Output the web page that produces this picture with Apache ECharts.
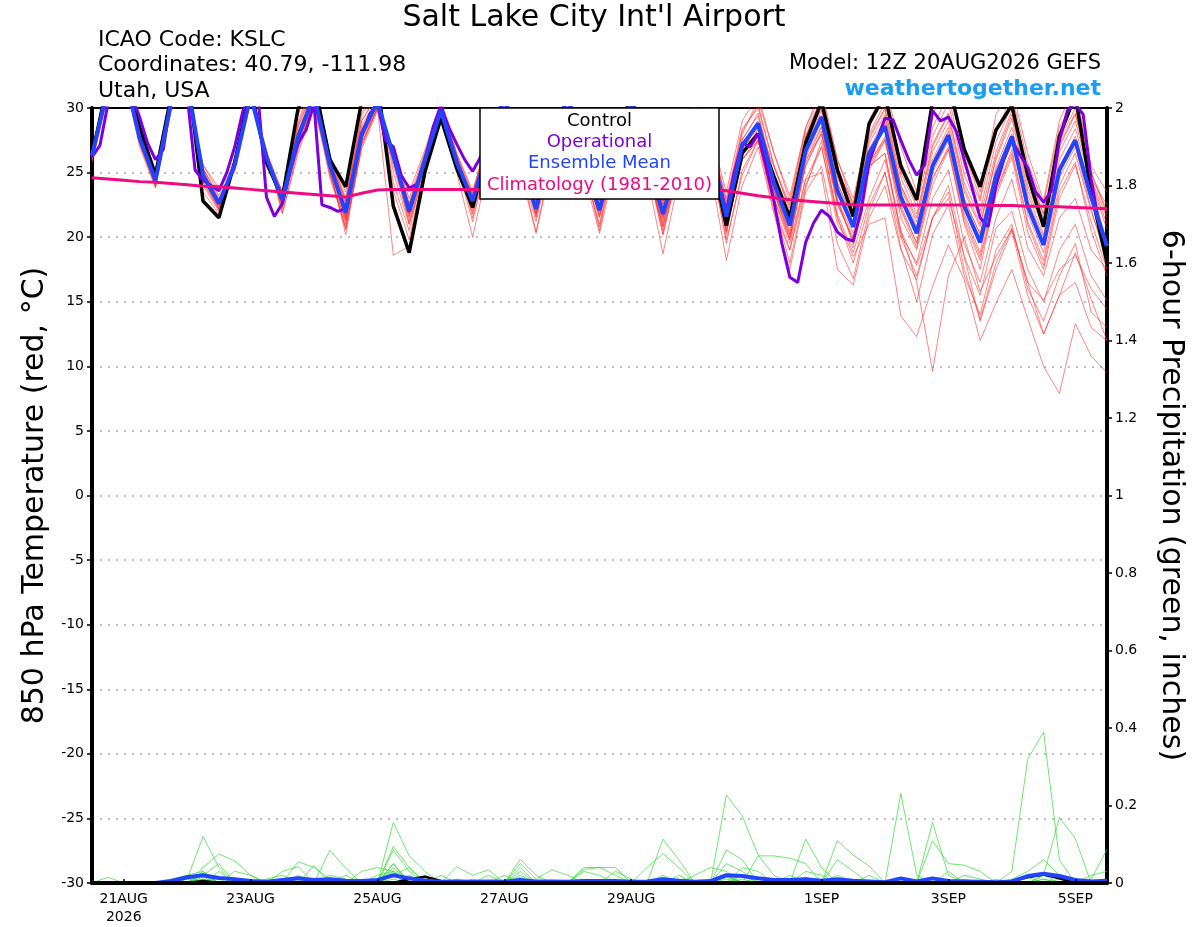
<!DOCTYPE html>
<html>
<head>
<meta charset="utf-8">
<script src="https://cdn.jsdelivr.net/npm/echarts@6/dist/echarts.min.js"></script>
<style>html,body{margin:0;padding:0;background:#fff;}#chart{width:1200px;height:927px;}</style>
</head>
<body>
<div id="chart"></div>
<script>
// time axis in 6-hour steps from 20AUG2026 12Z (index 0) to 5SEP2026 12Z (index 64)
const xTickIndex = [2, 10, 18, 26, 34, 46, 54, 62];
const xTickLabels = ['21AUG\n2026', '23AUG', '25AUG', '27AUG', '29AUG', '1SEP', '3SEP', '5SEP'];

// 850 hPa temperature, ensemble members (6-hourly)
const member01 = [26.0,31.8,33.5,28.3, 24.8,31.2,32.8,23.5, 21.8,25.9,31.6,25.9, 23.2,29.5,32,26.2, 23.5,30.2,31.8,23.6, 19.8,25.5,29.5,25.6, 22.5,27.4,31.5,26.6, 22.9,27.6,31.4,26.8, 22.8,27.5,31,26.5, 22.6,26.6,30.2,27, 21.2,27,28.8,25.4, 22.3,27.8,30.8,25.5, 22.3,28.5,31.2,25.8, 23.2,30,31.6,26.5, 23.5,28.2,30.4,25, 21.8,27.8,31,24, 19.5];
const member02 = [26.5,31,32.5,27.4, 24.2,30,31.5,25.3, 23.2,25.3,30.8,26.5, 22.4,27,30.5,25, 20.6,27.2,30,26.8, 22.6,26.4,30.1,26.2, 21.5,26.5,30.6,25.5, 21.2,26.5,30.5,25.5, 21,26.8,30.6,25.8, 20.5,25.5,29.8,26.5, 20.5,26.5,28.3,23.5, 19.8,25.8,28.5,22.6, 19.8,25.5,27.5,22.1, 19.2,24.5,27,21.5, 18.5,23.5,26.8,21.2, 18.2,24,26.5,22, 18.5];
const member03 = [26.8,32,33.2,28, 25,30.8,32.5,24.5, 22.2,26,31.2,26.6, 23.5,28.5,31.5,26, 22.8,29,31,25.5, 21.5,26.2,30.2,26.3, 23.2,27.8,31.6,26.8, 22.8,27.8,31.6,26.6, 22.5,27.6,31,26.4, 22.4,26.8,30.6,27.8, 22.6,28.2,30.2,25.6, 22,27.8,30.5,25, 22,27.8,30,24.6, 21.8,27.2,29.6,24.2, 21.5,26.6,29.8,24.6, 21.5,27.2,29.6,25, 21.8];
const member04 = [26.2,31.2,32.8,27.5, 24.1,30.2,31.8,25, 22.8,25.5,30.6,26, 22.6,27.5,30.8,25.4, 21.5,27.6,30.3,26.1, 21.6,25.8,29.6,25.5, 22.3,26.6,30.6,25.8, 21.8,26.6,30.4,25.6, 21.6,26.4,30,25.5, 21.2,25.6,29.4,26.5, 20.8,26,27.5,23, 19.5,24.5,27,21.5, 18.5,21,21.5,13.9, 12.3,16.2,19.4,16.7, 12,14.9,17.5,13.7, 10,7.9,13.3,10.8, 9.5];
const member05 = [26.4,31.4,33,27.6, 24.6,30.6,32.2,24.6, 22.4,25.8,31.2,26.3, 22.7,27.8,31.2,25.8, 22.2,28.4,30.6,26.5, 22.4,26.3,30,26, 23,27.2,31.2,26.2, 22.5,27.2,31.2,26.2, 22.3,27.2,30.8,26.2, 21.4,26.2,30.4,26.8, 21,27,28,23.8, 20.2,26,28,22.8, 19.5,25.5,26.5,20.5, 16.5,9.6,17,20, 15.8,18.5,20.6,16.5, 12.5,15.5,18.8,15.2, 12];
const member06 = [26,31,32.6,27.2, 24,30.2,31.8,25.2, 22.9,25.2,30.7,26.6, 23.4,27.2,30.6,24.8, 21.2,27.6,30,18.6, 19.3,24.8,29.2,25.2, 22,26.5,30.8,25.8, 21.6,26.8,30.8,25.8, 21.8,26.6,30.2,25.5, 20.8,25.8,29.6,26.6, 21.2,26.5,29,24.5, 21.5,27,29.8,24.2, 21.2,26.8,29.2,23.8, 20.8,26,28.5,23, 20.2,25.4,28.5,23.3, 20.2,26,28.4,24.2, 20.6];
const member07 = [26.6,31.6,33.2,27.9, 24.5,30.4,32,25, 22.5,25.7,31,26.1, 22.2,27.3,30.8,25.5, 21.4,27.8,30.5,26.4, 21.8,26,29.8,25.9, 22.6,27,31,26, 22,27,31,26, 22,27,30.6,26, 21.5,26,29.8,26.2, 20.5,26,27.5,22.5, 19,24.5,25,17.5, 16.3,21.5,24,19, 16.7,21.5,23.5,17.5, 13.6,18,20.7,16.5, 15.1,17.5,18.6,16, 14.4];
const member08 = [26.1,31.3,32.9,27.7, 24.3,30.4,31.9,24.9, 22.7,25.4,30.9,26, 22.8,27.6,30.8,25.6, 21.8,27.9,30.4,26.2, 22.3,25.9,29.8,25.7, 22.7,26.8,30.8,25.8, 22.1,26.9,30.8,25.8, 22,26.8,30.4,25.8, 21.6,25.8,29.6,26.4, 21.2,26.4,28,23.6, 20.5,26.2,28.6,22.8, 20.3,25.8,27.6,22.2, 19.6,24.6,26.8,21.2, 18.2,23.2,26.2,20.4, 17.5,23,25.6,21.2, 17.5];
const member09 = [26.7,32.2,34,28.6, 25.2,31.4,33,24, 22,26.2,31.8,25.4, 23.5,29,32,26.4, 23,29.6,31.6,24.2, 20.5,25.8,29.4,25.4, 22.8,27.6,31.8,26.7, 23.2,28,31.8,27, 23,27.8,31.4,26.8, 22.8,27.2,30.8,27.5, 22.8,28,30.6,26.5, 22.8,28.5,31.5,26, 22.5,29,31.6,27, 23.5,29.5,31.8,26.6, 23,29.5,31.5,26.5, 22.8,29,31.8,25, 22];
const member10 = [26.3,31.5,33.1,27.8, 24.4,30.5,32.1,24.7, 22.5,25.7,31,26.2, 22.9,27.8,31,25.6, 21.7,28,30.4,26.4, 22,26.1,29.9,25.7, 21.2,26.3,30.6,25.5, 20.4,26.2,30.6,25.4, 20.8,26.5,30.4,25.5, 20.2,25.4,29.6,26, 19.8,24.8,27.5,22.5, 18,23.8,27.5,21.8, 18.8,23,26,20.5, 17.8,21.5,24,18.5, 13.5,17.5,20.5,15.5, 12.5,15.5,16.5,13, 12];
const member11 = [25.8,31,32.7,27.3, 24,30,31.6,25.4, 23,25.2,30.6,26.4, 22.3,27,30.4,25.2, 20.2,27.2,30,26.6, 23,26.6,30.4,26.5, 23.6,27.6,31.5,26.4, 23,27.4,31.4,26.4, 22.8,27.4,30.8,26.3, 22.5,26.4,30.2,27.2, 22,27.5,29.6,24.8, 21.5,27.4,30.2,24.6, 21.7,27.6,29.9,24, 21.5,27,29.5,23.8, 21,26,29.2,23.6, 20.8,26.6,29,24.4, 21];
const member12 = [26.5,31.2,32.4,27, 23.8,29.8,31.4,25.6, 23.5,25,30.4,26.8, 21.8,26.5,30.2,24.6, 20.8,26.8,29.8,26, 21,25.2,29.4,25, 20,25.6,30,25.2, 20.3,25.8,30,25, 20.3,25.7,29.6,24.8, 18.7,24.5,29,25.2, 18.2,24,27,21.8, 17.5,23.5,25.5,19.5, 16.8,22,25,19.2, 15,20.2,22.5,17, 14,19,21,16, 13.5,17,19.5,14.2, 13];
const member13 = [26.2,31.7,33.4,28.1, 24.7,30.9,32.4,24.2, 22.1,25.9,31.4,26, 23.3,28.6,31.6,26, 22.6,29,31,25.8, 21.8,26.4,30.4,26.4, 23.4,28,31.8,27, 23.4,28,31.6,26.8, 23.2,27.6,31.2,26.6, 22.8,27,30.8,28, 23.5,29,31,26.5, 23.2,28.5,31,26, 23,28.5,31,25.8, 22.8,28.5,31,25.5, 22.8,28,31,25.8, 22.5,28.5,30.8,25.5, 23.5];
const member14 = [26.4,31.4,32.9,27.6, 24.3,30.4,31.9,25, 22.6,25.6,31,26.2, 22.9,27.9,31,25.7, 21.3,27.6,30.3,26.1, 21.2,25.7,29.6,25.6, 22.2,26.8,30.8,25.8, 21.8,26.8,30.8,25.8, 21.6,26.6,30.2,25.6, 21,25.6,29.6,26.2, 20.2,26.5,28.4,23.5, 20.2,26.4,29,23, 19.5,25.6,27.8,22.5, 19.5,25,27.5,21.8, 18.8,24.5,27.5,21.8, 18.8,24.6,27,22.2, 18];
const member15 = [26,31.2,32.7,27.5, 24.2,30.3,31.7,25.1, 22.9,25.5,30.8,26.3, 22.5,27.4,30.7,25.3, 21,27.3,30.1,26.5, 22.6,26.5,30.2,26, 22.9,27.2,31,26.1, 22.4,27,31,26, 22.3,27.1,30.6,26, 21.8,26,29.8,26.6, 21,26.8,28.6,23.5, 20,25.6,28,21.5, 18,22.5,25,20, 17,21.5,23,18.5, 15.5,20.7,22,17.5, 15,19,21,17, 15.1];
const member16 = [26.5,31.8,33.3,28, 24.6,30.7,32.3,24.5, 22.3,25.9,31.3,26.2, 23.1,28.2,31.3,25.9, 22.5,28.6,30.8,26.2, 22.5,26.3,30,26.1, 23.2,27.4,31.3,26.3, 22.6,27.3,31.3,26.3, 22.4,27.3,30.9,26.3, 22,26.4,30.4,26.6, 21.8,27.6,29.4,24.8, 21.8,27.3,30,24.2, 21.5,27.3,29.5,24, 21.2,26.6,29,23.5, 20.8,26.2,29.5,24, 21,27,29.5,24.5, 21.5];
const member17 = [26.3,31.1,32.6,27.3, 23.9,30.1,31.6,25.6, 23.8,25.4,30.6,26.5, 21.9,26.8,30.4,25, 20.6,27,30,26.5, 23.5,26.8,30.4,26.4, 22.5,27.2,31.2,26.2, 21.5,26.8,30.8,26, 20.5,26.5,30.4,25.8, 20.2,25.5,29.5,26.4, 19.5,25.2,27.5,22, 19,24,27,21, 19.2,25.5,26.5,20.2, 18,23,25.2,19.5, 16.5,21.5,24.5,19.2, 17,21.5,23,19, 17.5];
const member18 = [26.6,31.9,33.6,28.4, 25,31,32.6,24.3, 22.2,26.1,31.5,25.8, 23.6,28.8,31.8,26.3, 22.8,29.4,31.4,25, 21,25.8,29.6,25.6, 23.4,27.8,31.6,26.6, 23,27.8,31.6,26.8, 23,27.7,31.2,26.6, 22.9,27.2,30.6,27.6, 23,28.4,30,25.5, 22.5,28.2,30.6,25.2, 22.6,28,30.4,25, 22.4,27.8,30.4,24.8, 22,27.4,30.2,24.8, 21.8,27.5,30,24.5, 22.5];
const member19 = [26.1,31.3,32.8,27.5, 24.2,30.2,31.8,25, 22.7,25.5,30.8,26.3, 22.6,27.4,30.6,25.4, 21.6,27.8,30.3,26.3, 21.8,25.8,29.7,25.6, 21.8,26.5,30.8,25.8, 21.8,26.6,30.7,25.6, 21.5,26.5,30.2,25.4, 20.8,25.5,29.5,26, 20.4,26,27.8,23, 19.8,25.5,28.2,22.5, 20,25.2,27.5,21.5, 19,24,26.8,21, 17.5,23.5,26.5,21, 17.8,23.5,25.8,20.5, 17];
const member20 = [26.4,31.6,33.1,27.9, 24.5,30.6,32.1,24.8, 22.5,25.7,31.1,26.2, 22.8,27.7,30.9,25.6, 22,28.2,30.6,26.3, 22.2,26.1,29.9,25.8, 22.6,26.9,30.9,25.9, 22.2,27,30.9,25.9, 22.1,27,30.5,25.9, 21.7,25.9,29.9,26.9, 21.4,27,28.8,24.3, 21,26.8,29.4,23.8, 20.8,26.6,28.8,23.2, 20.6,25.8,28.2,22.8, 20.3,25.2,28,22.8, 20,25.5,27.8,23.5, 19.5];

// control, ensemble mean (6-hourly), operational (3-hourly), climatology
const controlTemp = [26.3,32,34,28.5, 24.8,31,33,22.8, 21.5,25.8,31.5,25.8, 23,30,32,26, 23.9,30.5,32,22.4, 18.8,25.1,29.2,25.3, 22.3,27,31,26.5, 23,27.5,31,26.5, 23,27.5,31,26.5, 23,26.5,29.5,26.5, 20.9,26.5,28,24.7, 21.5,27.3,30.5,25.2, 21.6,28.8,31,25.5, 22.9,30.5,32,26.8, 23.9,28.3,30.2,24.8, 20.8,27.8,31,23.5, 18];
const meanTemp = [26.3,31.5,33,27.7, 24.4,30.5,32,24.8, 22.6,25.6,31,26.2, 22.9,27.8,31,25.6, 21.9,28,30.5,26.3, 22.0,26,29.8,25.8, 22.8,27,31,26, 22.2,27,31,26, 22.1,27,30.5,26, 21.8,26,30,27, 21.6,27.1,28.8,24.2, 20.9,26.7,29.3,23.6, 20.8,26.5,28.6,23.1, 20.3,25.5,27.9,22.4, 19.6,24.7,27.8,22.4, 19.4,25.2,27.5,23.1, 19.3];
const operationalTemp = [26.2,27.1,30.3,32,32.5,31,29.3,27.3, 26,26.8,31,32,31,25.2,24.4,24, 23.6,25,27,29.7,31.5,30.5,23.1,21.6, 22.6,25.2,27.3,28.3,30.3,22.5,22.3,22, 22.2,25,27.8,29.5,30.3,27.5,27,24.8, 23.8,24.1,26,28.5,30.2,28.5,27.2,26, 25.1,26.2,27.5,28.8,30.2,29.5,27.5,25.5, 24.2,24.8,27,28.8,30.3,29.8,27.8,25.8, 24.5,25.2,27.2,29,30.4,29.6,27.5,25.8, 24.2,25,26.8,28,28.2,27,25.5,24.5, 22,25,27.3,27,28,25.5,22.8,19.5, 16.9,16.5,19.6,21.1,22.1,21.6,20.4,19.9, 19.7,22,25.8,27.5,29.2,29.1,27.5,26, 24.8,25.6,29.8,29,29.3,28.2,26,23.8, 21.5,20.8,24,26,27.5,26.4,25.4,23.5, 22.7,23.6,27.5,29.8,30.3,29.5,24.5,21, 19.4];
const climatologyTemp = [24.6,24.5,24.4,24.3, 24.25,24.15,24.05,23.95, 23.9,23.8,23.7,23.6, 23.5,23.4,23.3,23.2, 23.1,23.4,23.65,23.7, 23.7,23.7,23.7,23.7, 23.7,23.7,23.7,23.7, 23.7,23.7,23.7,23.7, 23.7,23.7,23.7,23.7, 23.7,23.7,23.75,23.75, 23.6,23.4,23.2,23.05, 22.9,22.8,22.7,22.6, 22.5,22.5,22.5,22.5, 22.5,22.5,22.5,22.5, 22.5,22.45,22.45,22.4, 22.4,22.35,22.3,22.25, 22.2];

// 6-hour precipitation (inches), ensemble members
const precip01 = [0,0,0,0,0,0,0.01,0.12, 0.04,0,0,0,0,0,0,0, 0,0,0,0.05,0,0,0,0, 0,0,0,0.02,0,0,0,0, 0,0,0,0,0,0,0,0, 0.05,0.03,0,0,0,0,0,0, 0,0,0,0,0,0,0,0, 0,0,0.03,0.32,0.389,0.06,0,0, 0];
const precip02 = [0,0,0,0,0,0,0,0.04, 0.075,0.057,0.02,0,0,0,0,0, 0,0,0,0.156,0.07,0.03,0,0, 0,0,0,0,0,0,0,0, 0,0,0,0,0.113,0.06,0,0, 0.227,0.173,0.072,0.02,0,0,0,0, 0,0,0,0,0,0,0,0, 0,0,0,0,0.02,0.169,0.115,0, 0];
const precip03 = [0,0.015,0,0,0,0,0,0.03, 0,0,0,0,0,0.055,0.04,0.01, 0,0,0,0.094,0.04,0,0,0, 0,0,0,0.061,0.02,0,0,0, 0,0,0,0,0,0,0,0, 0,0,0,0,0,0.113,0.04,0, 0,0,0,0.231,0.02,0,0,0, 0,0,0,0,0,0,0,0.01, 0.087];
const precip04 = [0,0,0,0,0,0,0,0.025, 0,0,0,0,0.03,0.042,0,0.085, 0.038,0,0,0.085,0.03,0,0,0, 0,0,0,0,0,0,0,0.035, 0.04,0.04,0,0,0,0,0,0, 0,0,0,0,0,0,0,0.109, 0.072,0.044,0,0,0,0.156,0.02,0, 0,0,0,0,0,0,0,0, 0];
const precip05 = [0,0,0,0,0,0,0.015,0.02, 0.05,0,0,0,0,0,0,0, 0,0.03,0.04,0.03,0,0,0,0.042, 0.02,0.034,0,0,0,0,0,0, 0,0,0,0.04,0.076,0.04,0,0, 0.085,0.06,0,0,0,0,0,0, 0,0,0,0,0,0.109,0.05,0.046, 0.03,0,0,0,0,0,0,0, 0];
const precip06 = [0,0,0,0,0,0,0,0, 0,0.03,0.02,0,0,0,0,0.02, 0.01,0,0,0.02,0.04,0,0,0, 0,0,0,0.05,0.01,0.034,0.02,0, 0,0,0,0,0,0,0,0, 0,0,0.07,0.07,0.064,0.05,0,0, 0,0,0,0,0,0,0,0, 0,0,0.01,0.03,0.06,0.02,0,0, 0];
const precip07 = [0,0,0,0,0,0,0,0.02, 0,0,0,0,0,0,0.045,0, 0,0,0,0.05,0,0.02,0,0, 0,0,0,0.04,0,0,0,0.03, 0.02,0,0,0,0,0,0.02,0.04, 0.03,0,0,0,0,0,0,0.06, 0.03,0,0,0,0,0,0,0, 0,0,0,0,0,0,0,0.02, 0.03];
const precip08 = [0,0,0,0,0,0,0,0, 0,0,0,0.01,0.02,0,0,0, 0,0,0.02,0.03,0,0,0.02,0, 0,0,0.02,0,0,0,0,0, 0,0.03,0.01,0,0,0.02,0,0, 0.02,0,0,0,0,0.03,0.02,0, 0,0,0,0,0,0,0,0.02, 0.01,0,0,0,0,0,0,0, 0];
const precip09 = [0,0,0,0,0,0.01,0.02,0.03, 0,0,0,0,0,0.02,0,0, 0,0,0,0.04,0,0,0,0, 0,0.02,0,0.03,0,0,0,0, 0,0,0,0,0.02,0,0,0, 0,0.04,0.03,0,0,0,0,0, 0,0.02,0,0,0,0,0,0, 0,0.01,0,0,0.02,0,0,0, 0];
const precip10 = [0,0,0,0,0,0,0.02,0, 0.03,0,0,0,0,0,0,0, 0.02,0,0,0,0.02,0,0,0, 0.01,0,0,0,0,0,0,0.04, 0.04,0.02,0,0,0,0,0,0, 0,0,0,0,0.02,0,0,0, 0,0,0,0,0.01,0,0.03,0, 0,0,0,0,0,0,0,0, 0];
const precip11 = [0,0,0,0,0,0,0,0.01, 0,0,0,0,0,0,0,0, 0,0,0,0.02,0,0,0,0, 0,0,0,0,0,0,0,0, 0,0,0,0,0.015,0,0,0, 0.015,0,0,0,0,0,0,0.02, 0,0,0,0,0,0,0,0, 0,0,0,0,0.01,0,0,0, 0];
const precip12 = [0,0,0,0,0,0,0,0, 0.015,0,0,0,0,0.01,0,0, 0,0,0,0,0.015,0,0,0, 0,0,0,0,0,0,0,0, 0,0,0,0,0,0,0,0, 0,0.02,0,0,0,0,0,0, 0,0,0,0.01,0,0,0,0, 0,0,0,0,0,0,0,0, 0];
const precip13 = [0,0,0,0,0,0,0.01,0, 0,0,0,0,0,0,0,0, 0,0,0.01,0,0,0,0,0, 0,0,0,0.015,0,0,0,0, 0,0,0,0,0,0,0,0, 0,0,0,0,0,0.015,0,0, 0,0,0,0,0,0,0,0, 0,0,0,0.015,0,0,0,0, 0];
const precip14 = [0,0,0,0,0,0,0,0.015, 0,0,0,0,0,0,0,0, 0,0,0,0.03,0,0,0,0, 0,0,0,0,0,0,0,0, 0,0,0,0,0,0.01,0,0, 0,0,0,0,0.01,0,0,0, 0,0,0,0,0,0.01,0,0, 0,0,0,0,0,0,0,0, 0];
const precip15 = [0,0,0,0,0,0,0,0, 0,0.01,0,0,0,0,0,0.015, 0,0,0,0,0,0,0,0, 0,0,0,0,0,0,0,0.01, 0,0,0,0,0,0,0,0, 0.02,0,0,0,0,0,0,0, 0,0,0,0,0,0,0,0, 0,0,0,0,0,0.01,0,0, 0];
const precip16 = [0.005,0,0,0,0,0,0,0, 0,0,0,0,0.01,0,0,0, 0,0,0,0,0,0,0,0.01, 0,0,0,0,0,0,0,0, 0,0,0,0,0,0,0,0, 0,0,0.015,0,0,0,0,0, 0,0,0,0,0,0,0,0.01, 0,0,0,0,0,0,0,0, 0];
const precip17 = [0,0,0,0,0,0,0,0, 0,0,0,0,0,0,0,0, 0,0,0,0.01,0,0,0,0, 0,0,0,0,0,0,0,0, 0,0,0,0,0,0,0,0, 0.01,0,0,0,0,0,0,0, 0,0,0,0,0,0,0,0, 0,0,0,0,0,0,0,0, 0];
const precip18 = [0,0,0,0,0,0,0,0.01, 0,0,0,0,0,0,0,0, 0,0,0,0,0,0,0,0, 0,0,0,0,0,0,0,0, 0,0,0,0,0,0,0,0, 0,0,0,0,0,0,0,0, 0,0,0,0,0,0,0,0, 0,0,0,0,0.01,0,0,0, 0];
const precip19 = [0,0,0,0,0,0,0,0, 0,0,0,0,0,0,0,0, 0,0,0,0,0,0,0,0, 0,0,0,0,0,0,0,0, 0,0,0,0,0.01,0,0,0, 0,0,0,0,0,0,0,0, 0,0,0,0,0,0,0,0, 0,0,0,0,0,0,0,0, 0];
const precip20 = [0,0,0,0,0,0,0,0, 0,0,0,0,0,0,0,0, 0,0,0,0,0,0,0,0, 0,0,0,0,0,0,0,0, 0,0,0,0,0,0,0,0, 0,0.01,0,0,0,0,0,0, 0,0,0,0,0,0,0,0, 0,0,0,0,0,0,0.01,0, 0];
const meanPrecip = [0,0,0,0, 0,0.005,0.015,0.02, 0.013,0.01,0.005,0.003, 0.008,0.012,0.008,0.01, 0.006,0.005,0.008,0.02, 0.012,0.006,0.003,0.004, 0.003,0.004,0.003,0.008, 0.004,0.004,0.003,0.005, 0.005,0.005,0.003,0.004, 0.01,0.006,0.003,0.005, 0.02,0.018,0.012,0.008, 0.008,0.01,0.006,0.01, 0.006,0.004,0.002,0.012, 0.004,0.012,0.005,0.004, 0.003,0.002,0.004,0.018, 0.024,0.018,0.008,0.004, 0.006];
const controlPrecip = [0,0,0,0, 0,0,0,0.005, 0,0,0,0, 0,0,0,0, 0,0,0,0, 0.01,0.016,0.005,0, 0,0,0,0, 0,0,0,0, 0,0,0,0, 0,0,0,0, 0,0,0,0, 0,0,0,0, 0,0,0,0, 0,0,0,0, 0,0,0.005,0.015, 0.022,0.012,0,0, 0];

const tempMembers = [member01,member02,member03,member04,member05,member06,member07,member08,member09,member10,member11,member12,member13,member14,member15,member16,member17,member18,member19,member20];
const precipMembers = [precip01,precip02,precip03,precip04,precip05,precip06,precip07,precip08,precip09,precip10,precip11,precip12,precip13,precip14,precip15,precip16,precip17,precip18,precip19,precip20];

const FONT = '"DejaVu Sans", "Liberation Sans", sans-serif';
const six = arr => arr.map((v, i) => [i, v]);
const three = arr => arr.map((v, j) => [j / 2, v]);

const base = { type: 'line', symbol: 'none', showSymbol: false, silent: true, animation: false, emphasis: { disabled: true } };
const series = [];
tempMembers.forEach((m, k) => series.push(Object.assign({}, base, {
  name: 'member' + (k + 1), xAxisIndex: 0, yAxisIndex: 0, data: six(m),
  lineStyle: { color: 'rgba(255,50,50,0.75)', width: 0.8 }
})));
precipMembers.forEach((m, k) => series.push(Object.assign({}, base, {
  name: 'precip' + (k + 1), xAxisIndex: 0, yAxisIndex: 1, data: six(m),
  lineStyle: { color: 'rgba(40,220,40,0.85)', width: 0.8 }
})));
series.push(Object.assign({}, base, { name: 'Control', yAxisIndex: 0, data: six(controlTemp), lineStyle: { color: '#000000', width: 3.5 } }));
series.push(Object.assign({}, base, { name: 'Operational', yAxisIndex: 0, data: three(operationalTemp), lineStyle: { color: '#7d00dc', width: 3 } }));
series.push(Object.assign({}, base, { name: 'Ensemble Mean', yAxisIndex: 0, data: six(meanTemp), lineStyle: { color: '#2244ff', width: 4 } }));
series.push(Object.assign({}, base, { name: 'Climatology (1981-2010)', yAxisIndex: 0, data: six(climatologyTemp), lineStyle: { color: '#ee0a80', width: 3 } }));
series.push(Object.assign({}, base, { name: 'Control precip', yAxisIndex: 1, data: six(controlPrecip), lineStyle: { color: '#000000', width: 2.5 } }));
series.push(Object.assign({}, base, { name: 'Mean precip', yAxisIndex: 1, data: six(meanPrecip), lineStyle: { color: '#2244ff', width: 4 } }));

const legendItems = [
  { text: 'Control', color: '#000000', y: 121 },
  { text: 'Operational', color: '#7d00dc', y: 142 },
  { text: 'Ensemble Mean', color: '#2244ff', y: 163 },
  { text: 'Climatology (1981-2010)', color: '#ee0a80', y: 185 }
];

const graphic = [
  { type: 'text', x: 594, y: 18, z: 100, style: { text: "Salt Lake City Int'l Airport", fill: '#000', fontSize: 30, fontFamily: FONT, align: 'center', verticalAlign: 'middle' } },
  { type: 'text', x: 98, y: 40, z: 100, style: { text: 'ICAO Code: KSLC', fill: '#000', fontSize: 22, fontFamily: FONT, align: 'left', verticalAlign: 'middle' } },
  { type: 'text', x: 98, y: 65, z: 100, style: { text: 'Coordinates: 40.79, -111.98', fill: '#000', fontSize: 22, fontFamily: FONT, align: 'left', verticalAlign: 'middle' } },
  { type: 'text', x: 98, y: 91, z: 100, style: { text: 'Utah, USA', fill: '#000', fontSize: 22, fontFamily: FONT, align: 'left', verticalAlign: 'middle' } },
  { type: 'text', x: 1101, y: 64, z: 100, style: { text: 'Model: 12Z 20AUG2026 GEFS', fill: '#000', fontSize: 21, fontFamily: FONT, align: 'right', verticalAlign: 'middle' } },
  { type: 'text', x: 1101, y: 89, z: 100, style: { text: 'weathertogether.net', fill: '#1a9ef5', fontSize: 22, fontWeight: 'bold', fontFamily: FONT, align: 'right', verticalAlign: 'middle' } },
  { type: 'rect', z: 100, shape: { x: 480, y: 108, width: 239, height: 91 }, style: { fill: '#ffffff', stroke: '#000000', lineWidth: 1.5 } }
].concat(legendItems.map(it => ({
  type: 'text', x: 599.5, y: it.y, z: 101,
  style: { text: it.text, fill: it.color, fontSize: 18, fontFamily: FONT, align: 'center', verticalAlign: 'middle' }
})));

const chart = echarts.init(document.getElementById('chart'), null, { renderer: 'canvas' });
chart.setOption({
  animation: false,
  backgroundColor: '#ffffff',
  textStyle: { fontFamily: FONT },
  grid: { left: 92, right: 93, top: 108, bottom: 44, show: true, borderColor: '#000', borderWidth: 2, backgroundColor: 'transparent' },
  xAxis: {
    type: 'value', min: 0, max: 64, z: 10,
    axisLine: { show: true, onZero: false, lineStyle: { color: '#000', width: 4 } },
    axisTick: { show: true, inside: true, customValues: xTickIndex, length: 4, lineStyle: { color: '#000', width: 1.5 } },
    axisLabel: {
      customValues: xTickIndex, color: '#000', fontSize: 14, fontFamily: FONT, margin: 7, lineHeight: 18,
      formatter: v => { const k = xTickIndex.indexOf(v); return k >= 0 ? xTickLabels[k] : ''; }
    },
    splitLine: { show: false }
  },
  yAxis: [
    {
      type: 'value', min: -30, max: 30, interval: 5, position: 'left',
      name: '850 hPa Temperature (red, °C)', nameLocation: 'middle', nameRotate: 90, nameGap: 42,
      nameTextStyle: { color: '#000', fontSize: 30, fontFamily: FONT },
      axisLine: { show: true, lineStyle: { color: '#000', width: 4 } },
      axisTick: { show: true, length: 5, lineStyle: { color: '#000', width: 1.5 } },
      axisLabel: { color: '#000', fontSize: 14, fontFamily: FONT, margin: 8 },
      splitLine: { show: true, showMinLine: false, showMaxLine: false, lineStyle: { color: '#aaaaaa', width: 1.5, type: [2, 6] } }
    },
    {
      type: 'value', min: 0, max: 2, interval: 0.2, position: 'right',
      name: '6-hour Precipitation (green, inches)', nameLocation: 'middle', nameRotate: -90, nameGap: 49,
      nameTextStyle: { color: '#000', fontSize: 30, fontFamily: FONT },
      axisLine: { show: true, lineStyle: { color: '#000', width: 4 } },
      axisTick: { show: true, length: 5, lineStyle: { color: '#000', width: 1.5 } },
      axisLabel: { color: '#000', fontSize: 14, fontFamily: FONT, margin: 8 },
      splitLine: { show: false }
    }
  ],
  graphic: graphic,
  series: series
});
</script>
</body>
</html>
